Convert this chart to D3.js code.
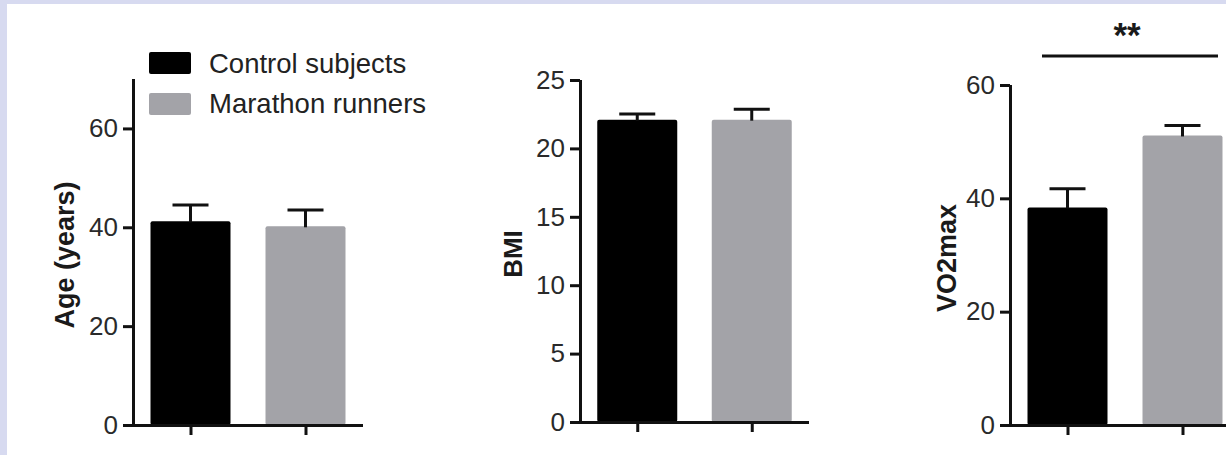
<!DOCTYPE html>
<html><head><meta charset="utf-8">
<script src="https://cdn.jsdelivr.net/npm/d3@7"></script>
<style>
html,body{margin:0;padding:0;background:#d7daf0;}
svg{display:block;}
</style></head>
<body>
<svg id="c" width="1226" height="455"></svg>
<script>
// ---- data ----
const categories = ["Control subjects", "Marathon runners"];
const ageValues = [41.2, 40.2];
const ageErrors = [3.3, 3.3];
const bmiValues = [22.1, 22.1];
const bmiErrors = [0.42, 0.77];
const vo2Values = [38.4, 51.1];
const vo2Errors = [3.3, 1.75];
const ageTicks = [0, 20, 40, 60];
const bmiTicks = [0, 5, 10, 15, 20, 25];
const vo2Ticks = [0, 20, 40, 60];
const significance = "**";

const colors = ["#000000", "#a3a3a8"];
const FONT = "'Liberation Sans', Arial, Helvetica, sans-serif";

const svg = d3.select("#c");
svg.append("rect").attr("x", 7).attr("y", 4).attr("width", 1226 - 7).attr("height", 455 - 4).attr("fill", "#ffffff");

const panels = [
  {label: "Age (years)", values: ageValues, errors: ageErrors, ticks: ageTicks, ymax: 70,
   x0: 133, x1: 363, yb: 425, yt: 79, labelX: 74, labelSize: 27},
  {label: "BMI", values: bmiValues, errors: bmiErrors, ticks: bmiTicks, ymax: 25,
   x0: 580, x1: 809, yb: 422, yt: 80, labelX: 522, labelSize: 26},
  {label: "VO2max", values: vo2Values, errors: vo2Errors, ticks: vo2Ticks, ymax: 60,
   x0: 1010, x1: 1240, yb: 425, yt: 85, labelX: 956, labelSize: 27}
];

const barW = 80, capW = 36, stroke = 3;

panels.forEach((p, pi) => {
  const g = svg.append("g");
  const x = d3.scalePoint().domain(categories).range([p.x0, p.x1]).padding(0.5);
  const y = d3.scaleLinear().domain([0, p.ymax]).range([p.yb, p.yt]);

  // bars
  g.selectAll("rect.bar").data(categories).join("rect")
    .attr("class", "bar")
    .attr("x", d => x(d) - barW / 2)
    .attr("width", barW)
    .attr("y", (d, i) => y(p.values[i]))
    .attr("height", (d, i) => y(0) - y(p.values[i]))
    .attr("rx", 2)
    .attr("fill", (d, i) => colors[i]);

  // error bars (upper only)
  categories.forEach((c, i) => {
    const cx = x(c);
    const top = y(p.values[i] + p.errors[i]);
    g.append("line").attr("x1", cx).attr("x2", cx)
      .attr("y1", y(p.values[i]) + 1).attr("y2", top)
      .attr("stroke", "#111").attr("stroke-width", stroke);
    g.append("line").attr("x1", cx - capW / 2).attr("x2", cx + capW / 2)
      .attr("y1", top).attr("y2", top)
      .attr("stroke", "#111").attr("stroke-width", stroke);
  });

  // y axis
  const ya = g.append("g").attr("transform", `translate(${p.x0},0)`)
    .call(d3.axisLeft(y).tickValues(p.ticks).tickSizeInner(10).tickSizeOuter(0).tickPadding(5));
  // x axis
  const xa = g.append("g").attr("transform", `translate(0,${p.yb})`)
    .call(d3.axisBottom(x).tickSizeInner(10).tickSizeOuter(0).tickFormat(""));
  [ya, xa].forEach(a => {
    a.select(".domain").attr("stroke", "#111").attr("stroke-width", stroke);
    a.selectAll(".tick line").attr("stroke", "#111").attr("stroke-width", stroke);
    a.selectAll(".tick text").attr("fill", "#2a2a2a").style("font-family", FONT).style("font-size", "26px");
  });
  xa.select(".domain").attr("d", `M${p.x0 - 1.5},0.5H${p.x1}`);
  ya.select(".domain").attr("d", `M0.5,${p.yb + 1.5}V${p.yt}`);

  // y label
  g.append("text")
    .attr("transform", `translate(${p.labelX},${(p.yb + p.yt) / 2 + 3}) rotate(-90)`)
    .attr("text-anchor", "middle")
    .style("font-family", FONT).style("font-size", p.labelSize + "px").style("font-weight", "bold")
    .attr("fill", "#1a1a1a")
    .text(p.label);

  if (pi === 2) {
    g.append("line").attr("x1", 1042).attr("x2", 1218).attr("y1", 56).attr("y2", 56)
      .attr("stroke", "#111").attr("stroke-width", stroke);
    g.append("text").attr("x", (x(categories[0]) + x(categories[1])) / 2 + 2).attr("y", 47)
      .attr("text-anchor", "middle")
      .style("font-family", FONT).style("font-size", "35px").style("font-weight", "bold")
      .attr("fill", "#1a1a1a").text(significance);
  }
});

// legend
const leg = svg.append("g");
categories.forEach((c, i) => {
  leg.append("rect").attr("x", 149).attr("y", 52 + i * 41).attr("width", 42).attr("height", 22)
    .attr("rx", 2).attr("fill", colors[i]);
  leg.append("text").attr("x", 209).attr("y", 73 + i * 39.5)
    .style("font-family", FONT).style("font-size", "27.5px").attr("fill", "#222")
    .text(c);
});
</script>
</body></html>
